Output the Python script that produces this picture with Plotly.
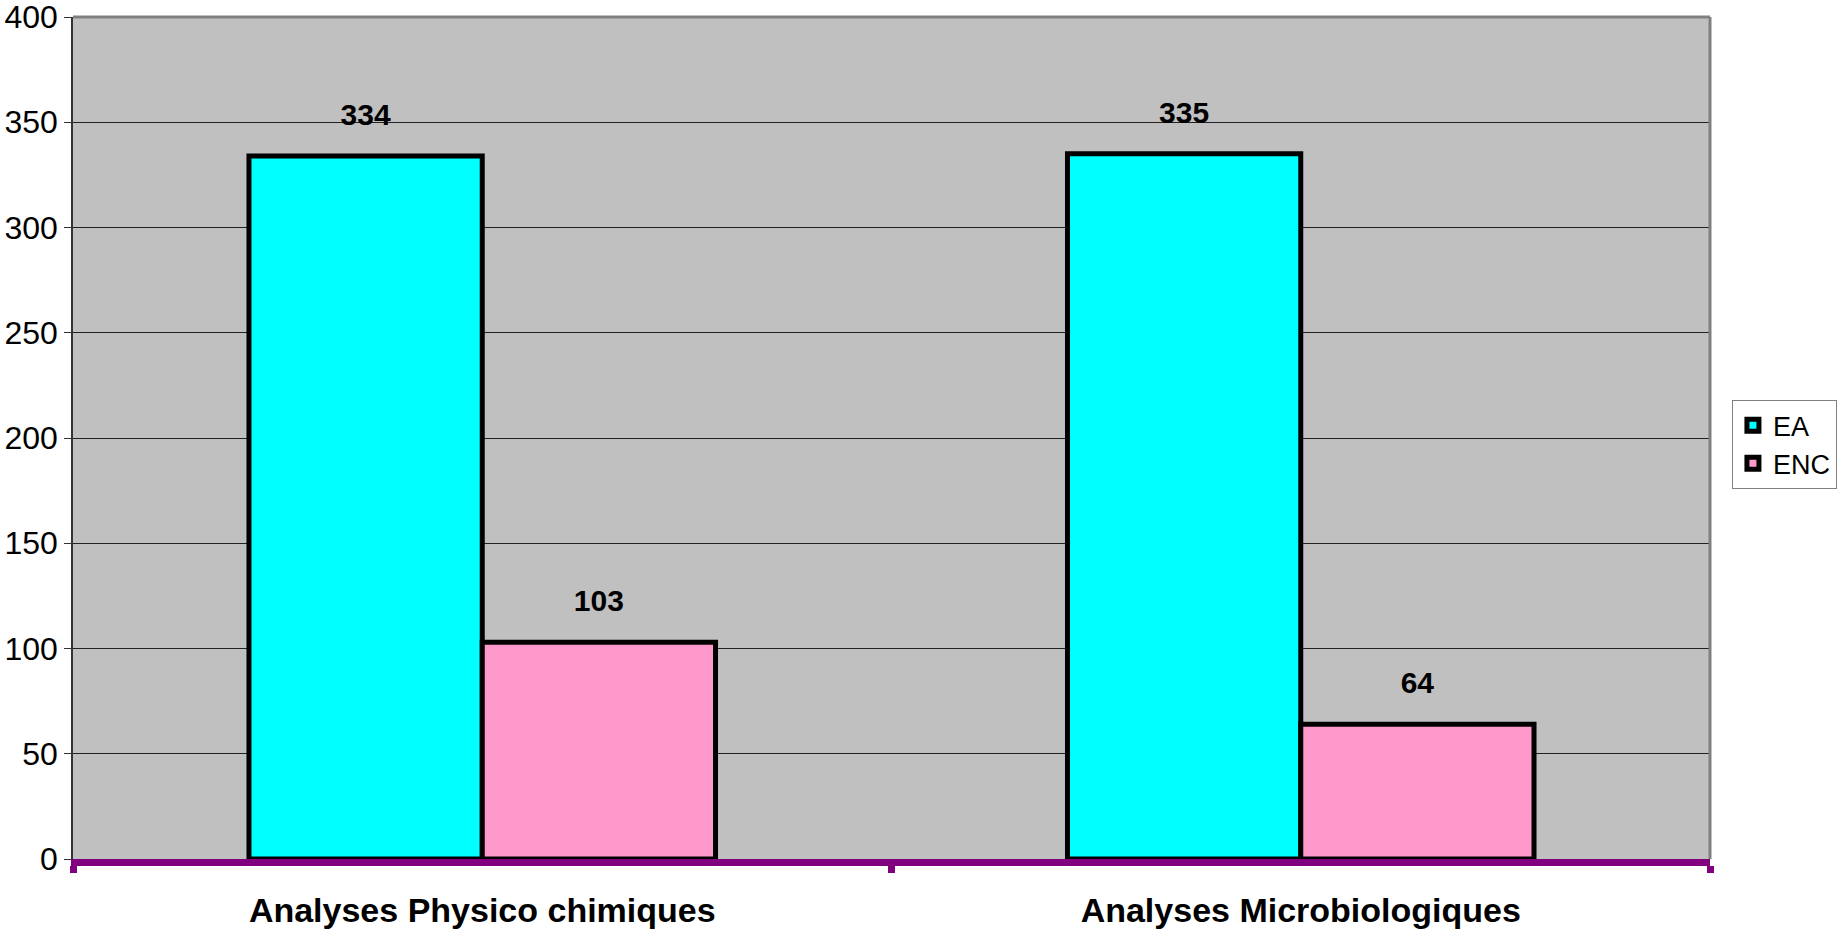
import plotly.graph_objects as go

categories = ["Analyses Physico chimiques", "Analyses Microbiologiques"]
series_names = ["EA", "ENC"]
ea_values = [334, 335]
enc_values = [103, 64]
series_values = [ea_values, enc_values]
series_colors = ["#00FFFF", "#FF99CC"]
y_tick_values = [0, 50, 100, 150, 200, 250, 300, 350, 400]

FONT = "Liberation Sans, Arial, sans-serif"

fig = go.Figure()
for name, vals, col in zip(series_names, series_values, series_colors):
    fig.add_trace(go.Bar(
        name=name, x=categories, y=vals, offsetgroup=name,
        marker=dict(color=col, line=dict(color="black", width=5)),
        hoverinfo="x+y+name",
    ))
for name, vals in zip(series_names, series_values):
    fig.add_trace(go.Scatter(
        x=categories, y=vals, offsetgroup=name, mode="markers+text",
        text=[str(v) for v in vals], textposition="top center",
        marker=dict(size=36, opacity=0),
        textfont=dict(family=FONT, size=30, color="black", weight="bold"),
        showlegend=False, hoverinfo="skip", cliponaxis=False,
    ))

fig.update_layout(
    width=1843, height=933,
    margin=dict(l=73, r=133, t=17, b=74, autoexpand=False),
    paper_bgcolor="white", plot_bgcolor="#C0C0C0",
    barmode="group", bargap=0.43, bargroupgap=0,
    scattermode="group", scattergap=0.43,
    font=dict(family=FONT, color="black"),
    legend=dict(
        x=1.0134, y=0.545, xanchor="left", yanchor="top",
        bgcolor="white", bordercolor="#808080", borderwidth=1,
        font=dict(family=FONT, size=27, color="black"),
        tracegroupgap=0, itemwidth=30,
    ),
    xaxis=dict(
        automargin=False, ticklabeloverflow="allow",
        showline=True, linecolor="#800080", linewidth=7,
        ticks="outside", tickson="boundaries", ticklen=7, tickwidth=7,
        tickcolor="#800080", showgrid=False,
        tickfont=dict(family=FONT, size=34, color="black", weight="bold"),
        ticklabelstandoff=15,
    ),
    yaxis=dict(
        automargin=False, ticklabeloverflow="allow",
        range=[0, 400], tickvals=y_tick_values,
        showline=True, linecolor="#333333", linewidth=1.5,
        ticks="outside", ticklen=7, tickwidth=1, tickcolor="#333333",
        showgrid=True, gridcolor="#222222", gridwidth=1, zeroline=False,
        tickfont=dict(family=FONT, size=32, color="black"),
    ),
    shapes=[
        dict(type="line", xref="x domain", yref="y domain", x0=0, x1=1, y0=1, y1=1,
             line=dict(color="#808080", width=3)),
        dict(type="line", xref="x domain", yref="y domain", x0=1, x1=1, y0=0, y1=1,
             line=dict(color="#808080", width=3)),
    ],
)

fig.write_html(
    "out.html",
    config={"displayModeBar": False},
    post_script="document.body.style.margin='0';document.body.style.overflow='hidden';",
)
